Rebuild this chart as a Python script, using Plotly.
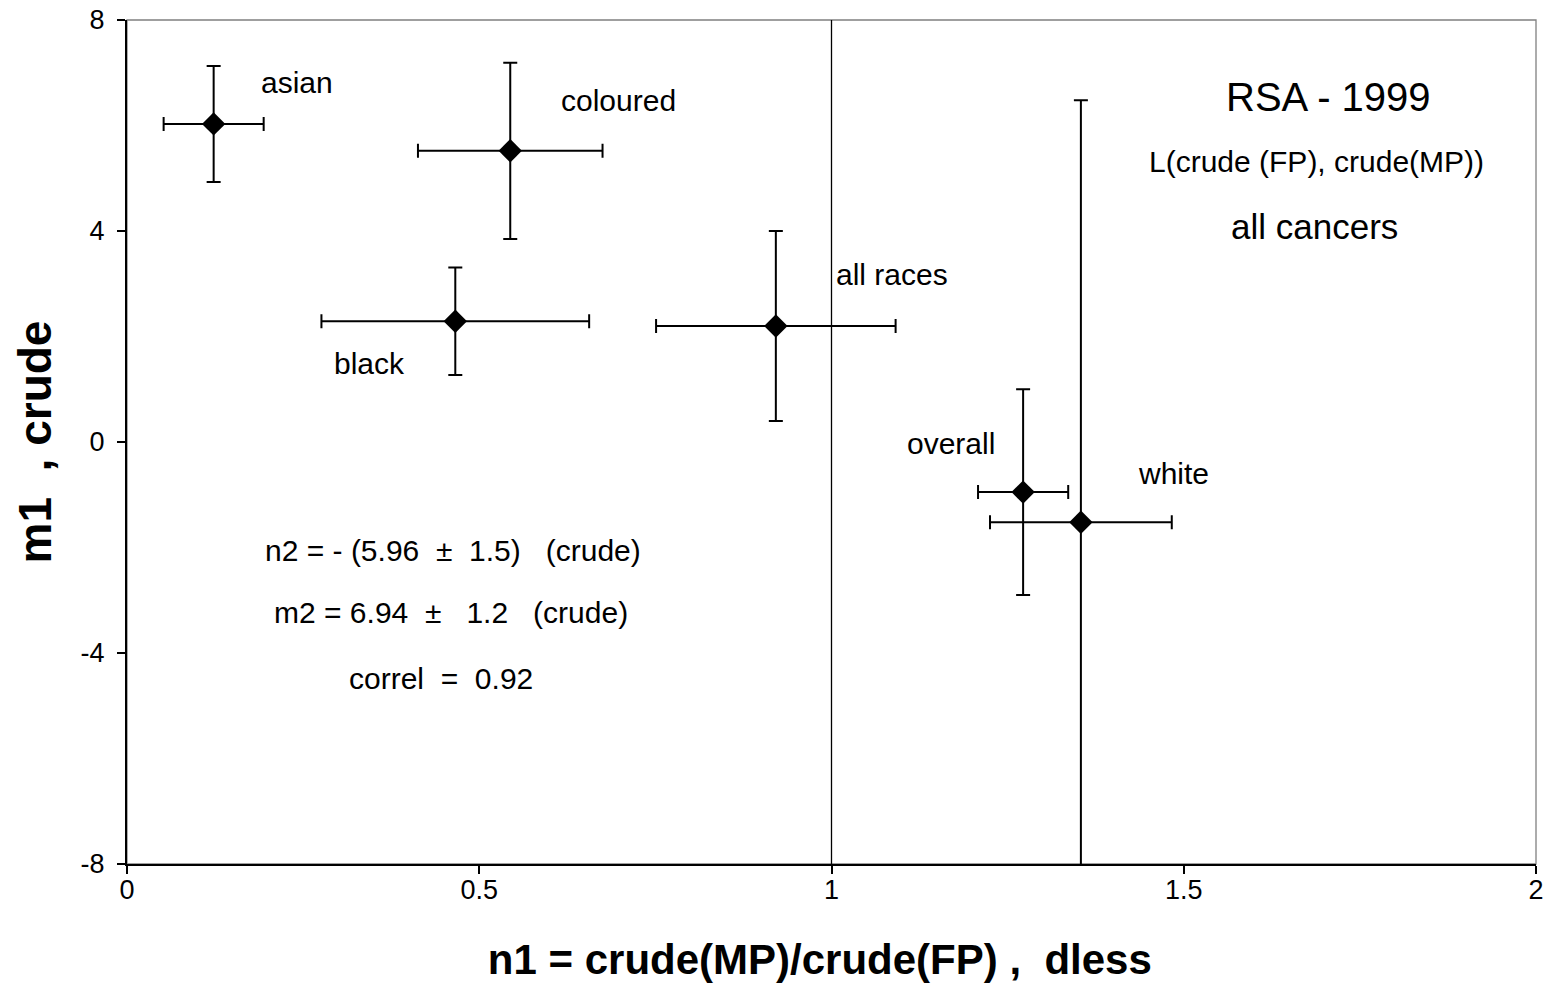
import plotly.graph_objects as go

# Data
groups = ["asian", "coloured", "black", "all races", "overall", "white"]
n1 = [0.123, 0.544, 0.466, 0.921, 1.272, 1.354]
n1_err = [0.071, 0.131, 0.19, 0.17, 0.064, 0.129]
m1 = [6.03, 5.52, 2.29, 2.20, -0.95, -1.52]
m1_err = [1.1, 1.67, 1.02, 1.8, 1.95, 8.0]

# label positions (data coords)
label_x = [0.241, 0.697, 0.3435, 1.086, 1.17, 1.486]
label_y = [6.82, 6.48, 1.48, 3.17, -0.02, -0.59]

x_ticks = [0, 0.5, 1, 1.5, 2]
x_ticktext = ["0", "0.5", "1", "1.5", "2"]
y_ticks = [-8, -4, 0, 4, 8]
y_ticktext = ["-8", "-4", "0", "4", "8"]

info_texts = ["RSA - 1999", "L(crude (FP), crude(MP))", "all cancers"]
info_x = [1.706, 1.688, 1.686]
info_y = [6.54, 5.31, 4.09]
info_sizes = [40, 30, 35]

fit_texts = ["n2 = - (5.96  \u00b1  1.5)   (crude)",
             "m2 = 6.94  \u00b1   1.2   (crude)",
             "correl  =  0.92"]
fit_x = [0.463, 0.46, 0.446]
fit_y = [-2.05, -3.24, -4.49]

FONT = "Liberation Sans, Arial, sans-serif"

fig = go.Figure()

fig.add_trace(go.Scatter(
    x=n1, y=m1, mode="markers",
    marker=dict(symbol="diamond", size=18, color="black"),
    error_x=dict(type="data", array=n1_err, visible=True, color="black",
                 thickness=2, width=7),
    error_y=dict(type="data", array=m1_err, visible=True, color="black",
                 thickness=2, width=7),
    showlegend=False, hoverinfo="skip",
))

# vertical reference line at n1 = 1
fig.add_shape(type="line", xref="x", yref="y", x0=1, x1=1, y0=-8, y1=8,
              line=dict(color="black", width=1.3), layer="below")
# plot area border (top/right in grey)
fig.add_shape(type="rect", xref="paper", yref="paper", x0=0, x1=1, y0=0, y1=1,
              line=dict(color="#808080", width=1.3), layer="below")

for t, x, y in zip(groups, label_x, label_y):
    fig.add_annotation(x=x, y=y, text=t, showarrow=False,
                       font=dict(family=FONT, size=30, color="black"))
for t, x, y, s in zip(info_texts, info_x, info_y, info_sizes):
    fig.add_annotation(x=x, y=y, text=t, showarrow=False,
                       font=dict(family=FONT, size=s, color="black"))
for t, x, y in zip(fit_texts, fit_x, fit_y):
    fig.add_annotation(x=x, y=y, text=t, showarrow=False,
                       font=dict(family=FONT, size=30, color="black"))

fig.update_layout(
    width=1552, height=985,
    margin=dict(l=127, r=16, t=20, b=121),
    paper_bgcolor="white", plot_bgcolor="white",
    font=dict(family=FONT, color="black"),
    xaxis=dict(
        range=[0, 2], tickvals=x_ticks, ticktext=x_ticktext,
        automargin=False,
        showgrid=False, zeroline=False,
        showline=True, linecolor="black", linewidth=2,
        ticks="outside", ticklen=8, tickwidth=1.5, tickcolor="black",
        ticklabelstandoff=-7,
        tickfont=dict(family=FONT, size=27, color="black"),
        title=dict(text="<b>n1 = crude(MP)/crude(FP) ,  dless\u00a0\u00a0</b>",
                   font=dict(family=FONT, size=42, color="black"), standoff=40),
    ),
    yaxis=dict(
        range=[-8, 8], tickvals=y_ticks, ticktext=y_ticktext,
        automargin=False,
        showgrid=False, zeroline=False,
        showline=True, linecolor="black", linewidth=2,
        ticks="outside", ticklen=8, tickwidth=1.5, tickcolor="black",
        ticklabelstandoff=7,
        tickfont=dict(family=FONT, size=27, color="black"),
        title=dict(text="<b>m1  , crude</b>",
                   font=dict(family=FONT, size=46, color="black"), standoff=14),
    ),
)

fig.write_html("out.html")
